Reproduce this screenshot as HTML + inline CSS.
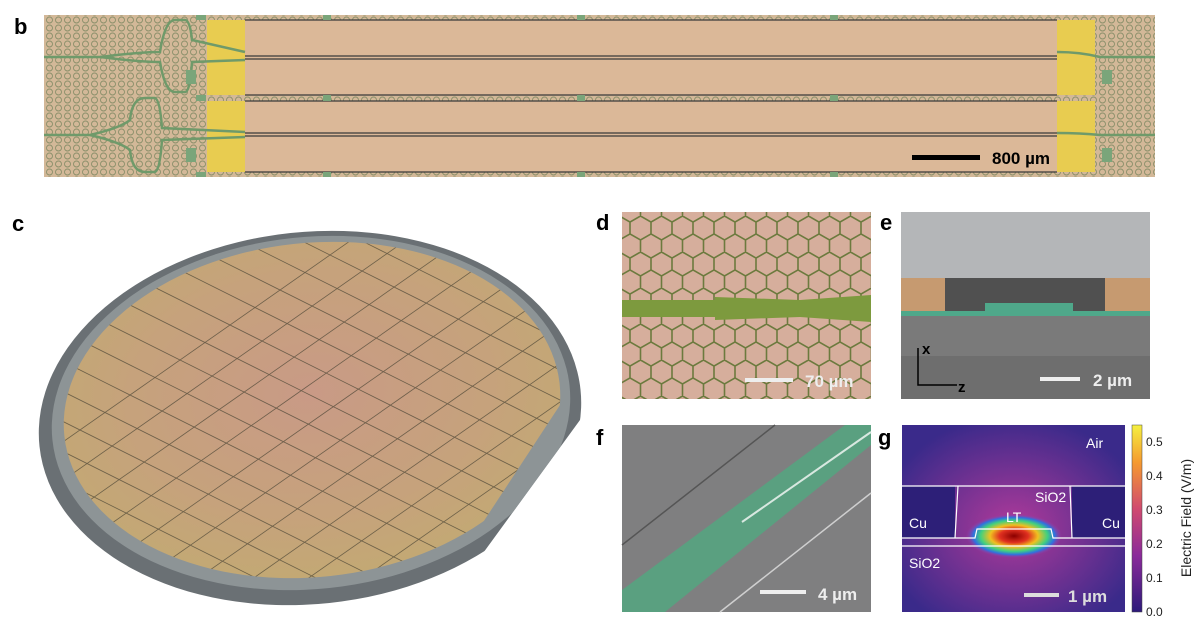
<!DOCTYPE html>
<html><head><meta charset="utf-8"><style>
body{margin:0;background:#fff;width:1200px;height:643px;overflow:hidden;font-family:"Liberation Sans",sans-serif}
svg{position:absolute;left:0;top:0;overflow:hidden}
</style></head><body>
<svg width="1200" height="643" viewBox="0 0 1200 643">
<defs>
 <pattern id="hexb" width="9" height="8" patternUnits="userSpaceOnUse"><rect width="9" height="8" fill="#d3b898"/><circle cx="4.5" cy="4" r="3" fill="none" stroke="#8a8f6a" stroke-width="0.9"/></pattern>
 <pattern id="hexd" width="21" height="36" patternUnits="userSpaceOnUse"><rect width="21" height="36" fill="#d6ae9c"/><path d="M0 6 L10.5 0 L21 6 L21 18 L10.5 24 L0 18 Z M10.5 24 L10.5 36" fill="none" stroke="#6c7a3e" stroke-width="1.6"/></pattern>
 <radialGradient id="mode" cx="50%" cy="50%" r="50%"><stop offset="0" stop-color="#8b0000"/><stop offset="0.3" stop-color="#e03020"/><stop offset="0.5" stop-color="#f0c020"/><stop offset="0.7" stop-color="#40d080"/><stop offset="0.85" stop-color="#3070e0"/><stop offset="1" stop-color="#a03aa0" stop-opacity="0"/></radialGradient>
 <radialGradient id="glow" cx="50%" cy="55%" r="60%"><stop offset="0" stop-color="#b03a9a"/><stop offset="1" stop-color="#3a2a8a"/></radialGradient>
 <linearGradient id="cbar" x1="0" y1="1" x2="0" y2="0"><stop offset="0" stop-color="#2d1a7a"/><stop offset="0.3" stop-color="#8a2a9a"/><stop offset="0.55" stop-color="#d04a70"/><stop offset="0.8" stop-color="#f59a30"/><stop offset="1" stop-color="#f5f040"/></linearGradient>
 <radialGradient id="wafer" cx="50%" cy="45%" r="60%"><stop offset="0" stop-color="#c99a86"/><stop offset="0.6" stop-color="#c6a27c"/><stop offset="1" stop-color="#c2aa72"/></radialGradient>
 <clipPath id="waferclip"><ellipse cx="312" cy="410" rx="249" ry="167" transform="rotate(-6 312 410)"/></clipPath>
 <clipPath id="flat"><path d="M0 0 L600 0 L600 420 L580 420 L462 582 L462 643 L0 643 Z"/></clipPath>
 <clipPath id="flat2"><path d="M0 0 L600 0 L600 405 L560 405 L455 565 L455 643 L0 643 Z"/></clipPath>
</defs>

<!-- panel b -->
<g>
<text x="14" y="34" font-size="22" font-weight="bold">b</text>
<rect x="44" y="15" width="1111" height="162" fill="url(#hexb)"/>
<rect x="207" y="20" width="38" height="75" fill="#e8cc50"/><rect x="207" y="101" width="38" height="71" fill="#e8cc50"/>
<rect x="1057" y="20" width="38" height="75" fill="#e8cc50"/><rect x="1057" y="101" width="38" height="71" fill="#e8cc50"/>
<rect x="245" y="20" width="812" height="75" fill="#dbb898"/><rect x="245" y="101" width="812" height="71" fill="#dbb898"/>
<g stroke="#3a3a3a" stroke-width="1.2"><line x1="245" y1="20" x2="1057" y2="20"/><line x1="245" y1="95" x2="1057" y2="95"/><line x1="245" y1="101" x2="1057" y2="101"/><line x1="245" y1="172" x2="1057" y2="172"/>
<line x1="245" y1="56" x2="1057" y2="56"/><line x1="245" y1="59" x2="1057" y2="59"/><line x1="245" y1="133" x2="1057" y2="133"/><line x1="245" y1="136" x2="1057" y2="136"/></g>
<g fill="none" stroke="#6f9a6a" stroke-width="2.5">
<path d="M44 57 L100 57 Q140 52 160 52 Q165 20 175 20 L185 20 Q190 20 192 40 L245 52"/>
<path d="M100 57 Q140 62 160 62 Q165 92 175 92 L185 92 Q190 92 192 62 L245 60"/>
<path d="M44 135 L90 135 Q120 128 130 120 Q132 98 145 98 L155 98 Q160 100 162 128 L245 132"/>
<path d="M90 135 Q120 142 130 150 Q132 172 145 172 L155 172 Q160 170 162 140 L245 137"/>
<path d="M1057 52 Q1080 52 1100 57 L1155 57"/><path d="M1057 133 Q1080 133 1100 135 L1155 135"/></g>
<g fill="#7aa57a"><rect x="196" y="15" width="10" height="5"/><rect x="196" y="95" width="10" height="6"/><rect x="196" y="172" width="10" height="5"/>
<rect x="323" y="15" width="8" height="5"/><rect x="323" y="172" width="8" height="5"/><rect x="577" y="15" width="8" height="5"/><rect x="577" y="172" width="8" height="5"/><rect x="830" y="15" width="8" height="5"/><rect x="830" y="172" width="8" height="5"/><rect x="323" y="95" width="8" height="6"/><rect x="577" y="95" width="8" height="6"/><rect x="830" y="95" width="8" height="6"/>
<rect x="186" y="70" width="10" height="14"/><rect x="186" y="148" width="10" height="14"/><rect x="1102" y="70" width="10" height="14"/><rect x="1102" y="148" width="10" height="14"/></g>
<rect x="912" y="155" width="68" height="5" fill="#000"/>
<text x="992" y="164" font-size="17" font-weight="bold">800 µm</text>
</g>

<!-- panel c -->
<g>
<text x="12" y="231" font-size="22" font-weight="bold">c</text>
<g clip-path="url(#flat)">
<ellipse cx="310" cy="418" rx="272" ry="186" fill="#6a7074" transform="rotate(-6 310 418)"/>
<ellipse cx="311" cy="413" rx="260" ry="176" fill="#8d9496" transform="rotate(-6 311 413)"/>
</g>
<g clip-path="url(#flat2)">
<ellipse cx="312" cy="410" rx="249" ry="167" fill="url(#wafer)" transform="rotate(-6 312 410)"/>
<g id="grid" clip-path="url(#waferclip)" stroke="#4a4535" stroke-width="0.8" opacity="0.7"></g>
</g>
</g>

<!-- panel d -->
<g>
<text x="596" y="230" font-size="22" font-weight="bold">d</text>
<rect x="622" y="212" width="249" height="187" fill="url(#hexd)"/>
<path d="M622 300 L715 300 L715 297 L800 300 L871 295 L871 322 L800 317 L715 320 L715 317 L622 317 Z" fill="#7d9a3e"/>
<rect x="745" y="378" width="48" height="4" fill="#eee"/>
<text x="805" y="387" font-size="17" font-weight="bold" fill="#eee">70 µm</text>
</g>

<!-- panel e -->
<g>
<text x="880" y="230" font-size="22" font-weight="bold">e</text>
<rect x="901" y="212" width="249" height="187" fill="#6e6e6e"/>
<rect x="901" y="212" width="249" height="66" fill="#b4b6b8"/>
<rect x="945" y="278" width="160" height="36" fill="#505050"/>
<rect x="901" y="278" width="44" height="36" fill="#c69a70"/><rect x="1105" y="278" width="45" height="36" fill="#c69a70"/>
<rect x="901" y="311" width="249" height="5" fill="#4fa88a"/><rect x="985" y="303" width="88" height="9" fill="#4fa88a"/>
<rect x="901" y="316" width="249" height="40" fill="#7a7a7a"/>
<g stroke="#000" stroke-width="1.5" fill="none"><path d="M918 348 L918 385 L957 385"/></g>
<text x="922" y="354" font-size="15" font-weight="bold">x</text>
<text x="958" y="392" font-size="15" font-weight="bold">z</text>
<rect x="1040" y="377" width="40" height="4" fill="#eee"/>
<text x="1093" y="386" font-size="17" font-weight="bold" fill="#eee">2 µm</text>
</g>

<!-- panel f -->
<g>
<text x="596" y="445" font-size="22" font-weight="bold">f</text>
<rect x="622" y="425" width="249" height="187" fill="#7f7f80"/>
<line x1="622" y1="545" x2="775" y2="425" stroke="#555" stroke-width="1.5"/>
<line x1="720" y1="612" x2="871" y2="493" stroke="#cfcfcf" stroke-width="1.5"/>
<path d="M622 590 L845 425 L871 425 L871 445 L665 612 L622 612 Z" fill="#5aa080"/>
<line x1="742" y1="522" x2="871" y2="432" stroke="#d8e8e0" stroke-width="2"/>
<rect x="760" y="590" width="46" height="4" fill="#eee"/>
<text x="818" y="600" font-size="17" font-weight="bold" fill="#eee">4 µm</text>
</g>

<!-- panel g -->
<g>
<text x="878" y="445" font-size="22" font-weight="bold">g</text>
<rect x="902" y="425" width="223" height="187" fill="url(#glow)"/>
<rect x="902" y="486" width="53" height="52" fill="#2d1f78"/><rect x="1072" y="486" width="53" height="52" fill="#2d1f78"/>
<ellipse cx="1014" cy="536" rx="48" ry="22" fill="url(#mode)"/>
<g fill="none" stroke="#fff" stroke-width="1.2">
<line x1="902" y1="486" x2="1125" y2="486"/><line x1="902" y1="546" x2="1125" y2="546"/>
<path d="M902 538 L955 538 L958 486 M1070 486 L1072 538 L1125 538 M955 538 L975 538 L977 529 L1051 529 L1053 538 L1072 538"/></g>
<text x="1086" y="448" font-size="14" fill="#fff">Air</text>
<text x="1035" y="502" font-size="14" fill="#fff">SiO2</text>
<text x="1006" y="522" font-size="14" fill="#fff">LT</text>
<text x="909" y="528" font-size="14" fill="#fff">Cu</text>
<text x="1102" y="528" font-size="14" fill="#fff">Cu</text>
<text x="909" y="568" font-size="14" fill="#fff">SiO2</text>
<rect x="1024" y="593" width="35" height="4" fill="#ddd"/>
<text x="1068" y="602" font-size="17" font-weight="bold" fill="#ddd">1 µm</text>
<rect x="1132" y="425" width="10" height="187" fill="url(#cbar)" stroke="#444" stroke-width="0.5"/>
<g font-size="12" fill="#222">
<text x="1146" y="616">0.0</text><text x="1146" y="582">0.1</text><text x="1146" y="548">0.2</text><text x="1146" y="514">0.3</text><text x="1146" y="480">0.4</text><text x="1146" y="446">0.5</text></g>
<text transform="translate(1191 518) rotate(-90)" text-anchor="middle" font-size="14" fill="#222">Electric Field (V/m)</text>
</g>
</svg>
<script>
var g=document.getElementById('grid');
function ln(x1,y1,x2,y2){var l=document.createElementNS('http://www.w3.org/2000/svg','line');l.setAttribute('x1',x1);l.setAttribute('y1',y1);l.setAttribute('x2',x2);l.setAttribute('y2',y2);g.appendChild(l);}
for(var i=-12;i<14;i++){var y=200+i*30;ln(40,y,600,y+280);}
for(var j=-4;j<16;j++){var x=j*55;ln(x,640,x+350,640-245);ln(x+350,395,x+700,150);}
</script>
</body></html>
